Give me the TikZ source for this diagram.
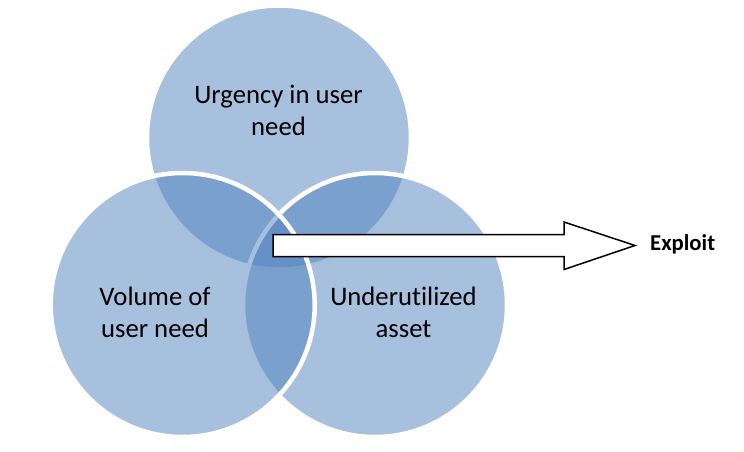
\documentclass[tikz,border=0pt]{standalone}
\usepackage{fontspec}
\setmainfont{Carlito}[RawFeature={-liga}]
\definecolor{vennblue}{HTML}{4F81BD}
\tikzset{
  venn/.style={circle, minimum size=264pt, inner sep=0pt, outer sep=0pt,
    fill=vennblue, fill opacity=0.5, draw=white, draw opacity=1, line width=4.5pt},
  lbl/.style={align=center, font=\fontsize{26.7}{32}\selectfont, text=black, inner sep=0pt},
  bigarrow/.style={draw=black, fill=white, line width=1.5pt, line join=miter},
  outlbl/.style={font=\fontsize{22.7}{27}\selectfont\bfseries, text=black, inner sep=0pt}
}
\begin{document}
\begin{tikzpicture}[x=1pt,y=-1pt]
\useasboundingbox (0,0) rectangle (744,452);
\node[venn] (ctop) at (279,137.5) {};
\node[venn] (cright) at (375,305) {};
\node[venn] (cleft) at (182.7,305) {};
\node[lbl, anchor=base] (ttop) at (278.5,135) {Urgency in user\\need};
\node[lbl, anchor=base] (tleft) at (155,337) {Volume of\\user need};
\node[lbl, anchor=base] (tright) at (403.5,337) {Underutilized\\asset};
\draw[bigarrow] (273,234.5) -- (564,234.5) -- (564,222) -- (635,245.5)
  -- (564,269.5) -- (564,256.5) -- (273,256.5) -- cycle;
\node[outlbl, anchor=base west] (exploit) at (650,250) {Exploit};
\end{tikzpicture}
\end{document}
